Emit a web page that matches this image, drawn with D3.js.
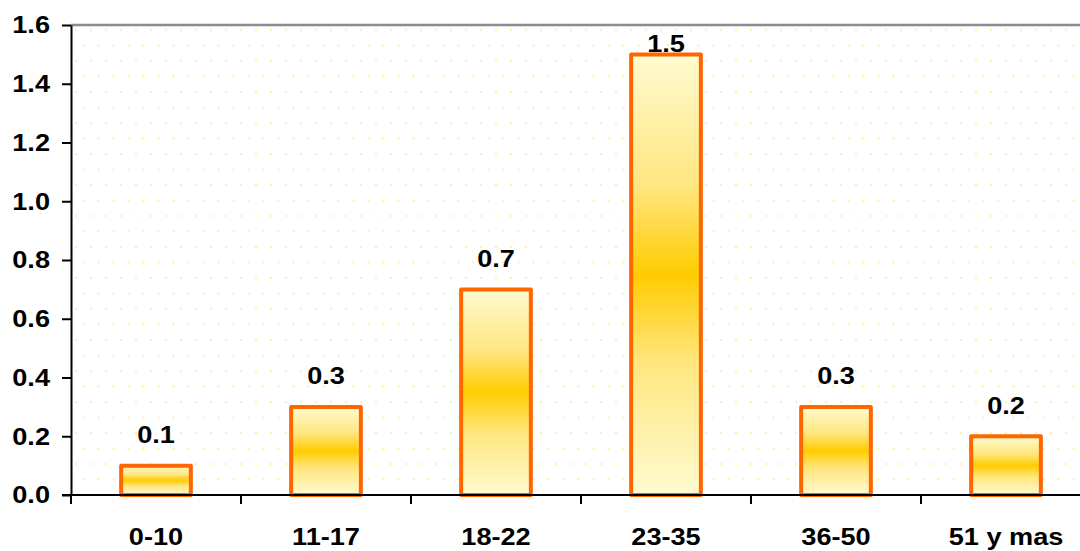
<!DOCTYPE html>
<html><head><meta charset="utf-8">
<script src="https://cdn.jsdelivr.net/npm/d3@7"></script>
<style>body{margin:0;background:#fff}svg{display:block}</style>
</head><body>
<script>
const categories = ["0-10","11-17","18-22","23-35","36-50","51 y mas"];
const values = [0.1,0.3,0.7,1.5,0.3,0.2];
const yTicks = [0,0.2,0.4,0.6,0.8,1.0,1.2,1.4,1.6];

const W=1080,H=551;
const m={l:71,t:25,b:56};
const plotRight=1091;
const FONT="Liberation Sans, Arial, sans-serif";
const SX=1.18;
const svg=d3.select("body").append("svg").attr("width",W).attr("height",H);
const defs=svg.append("defs");
const pat=defs.append("pattern").attr("id","dots").attr("patternUnits","userSpaceOnUse")
  .attr("x",m.l).attr("y",m.t).attr("width",15).attr("height",31);
pat.append("rect").attr("width",15).attr("height",31).attr("fill","#ffffff");
pat.append("circle").attr("cx",5).attr("cy",5).attr("r",1.1).attr("fill","#faf28a");
pat.append("circle").attr("cx",12.5).attr("cy",20.5).attr("r",1.1).attr("fill","#faf28a");
const g=defs.append("linearGradient").attr("id","barg").attr("x1",0).attr("y1",0).attr("x2",0).attr("y2",1);
[[0,"#fffbd0"],[0.3,"#ffe680"],[0.5,"#ffcc00"],[0.7,"#ffe680"],[1,"#fffbd0"]].forEach(([o,c])=>g.append("stop").attr("offset",o).attr("stop-color",c));

const x=d3.scaleBand().domain(categories).range([m.l,plotRight]).paddingInner(0.59).paddingOuter(0.295);
const y=d3.scaleLinear().domain([0,1.6]).range([H-m.b,m.t]);

svg.append("rect").attr("x",m.l).attr("y",m.t).attr("width",W-m.l).attr("height",H-m.b-m.t).attr("fill","url(#dots)");
svg.append("line").attr("x1",m.l).attr("x2",W).attr("y1",y(1.6)).attr("y2",y(1.6)).attr("stroke","#8c8c8c").attr("stroke-width",2.5);

svg.selectAll("rect.bar").data(values).join("rect").attr("class","bar")
  .attr("x",(d,i)=>x(categories[i])).attr("width",x.bandwidth())
  .attr("y",d=>y(d)).attr("height",d=>y(0)-y(d))
  .attr("fill","url(#barg)").attr("stroke","#ff6600").attr("stroke-width",4).attr("stroke-linejoin","round");

function label(sel, tx, ty, anchor, txt){
  sel.append("text").attr("transform",`translate(${tx},${ty}) scale(${SX},1)`)
    .attr("text-anchor",anchor).attr("font-family",FONT).attr("font-weight","bold")
    .attr("font-size",23).attr("fill","#000").text(txt);
}
const vl=svg.append("g");
values.forEach((d,i)=>label(vl, x(categories[i])+x.bandwidth()/2, Math.max(y(d)-22.5,52), "middle", d.toFixed(1)));

const ya=svg.append("g").attr("transform",`translate(${m.l},0)`)
  .call(d3.axisLeft(y).tickValues(yTicks).tickFormat("").tickSize(9).tickSizeOuter(0));
ya.select(".domain").attr("stroke","#000").attr("stroke-width",2);
ya.selectAll(".tick line").attr("stroke","#000").attr("stroke-width",2);
const yl=svg.append("g");
yTicks.forEach(t=>label(yl, 50, y(t)+8.3, "end", d3.format(".1f")(t)));

const xa=svg.append("g").attr("transform",`translate(0,${y(0)})`);
xa.append("line").attr("x1",m.l-9).attr("x2",W).attr("stroke","#000").attr("stroke-width",2);
const step=x.step();
const bounds=d3.range(categories.length).map(i=>x(categories[i])-x.paddingOuter()*step);
xa.selectAll("line.tk").data(bounds).join("line").attr("class","tk")
  .attr("x1",d=>d).attr("x2",d=>d).attr("y1",0).attr("y2",9).attr("stroke","#000").attr("stroke-width",2);
categories.forEach(c=>label(xa, x(c)+x.bandwidth()/2, 50, "middle", c));
</script>
</body></html>
